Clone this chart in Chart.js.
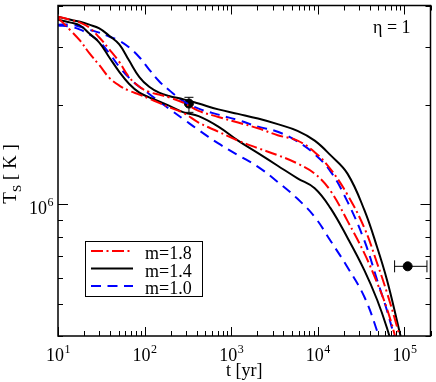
<!DOCTYPE html>
<html>
<head>
<meta charset="utf-8">
<script src="https://cdn.jsdelivr.net/npm/chart.js@4.4.0/dist/chart.umd.min.js"></script>
<style>
  html, body { margin: 0; padding: 0; background: #fff; }
  #wrap { width: 436px; height: 382px; }
</style>
</head>
<body>
<div id="wrap"><canvas id="cooling"></canvas></div>
<script>
// ========== Data (age in yr, surface temperature in K)
let ages = [10, 14, 18, 23, 30, 39, 51, 66, 87, 113, 147, 191, 283, 420, 710, 1200, 2040, 3440, 5830, 9200, 14000, 22000, 34500, 48500, 63000, 82500, 107000];

let red18Hi = [3.70e6, 3.62e6, 3.55e6, 3.43e6, 3.20e6, 2.95e6, 2.70e6, 2.43e6, 2.27e6, 2.19e6, 2.15e6, 2.11e6, 2.03e6, 1.92e6, 1.84e6, 1.77e6, 1.70e6, 1.62e6, 1.56e6, 1.44e6, 1.28e6, 1.07e6, 8.49e5, 6.63e5, 5.40e5, 4.25e5, 3.29e5];
let red18Lo = [3.67e6, 3.36e6, 3.13e6, 2.87e6, 2.64e6, 2.42e6, 2.29e6, 2.21e6, 2.15e6, 2.09e6, 2.03e6, 1.97e6, 1.89e6, 1.77e6, 1.66e6, 1.56e6, 1.48e6, 1.41e6, 1.33e6, 1.24e6, 1.10e6, 8.92e5, 7.11e5, 5.78e5, 4.83e5, 3.78e5, 2.87e5];
let blk14Hi = [3.70e6, 3.62e6, 3.57e6, 3.50e6, 3.41e6, 3.24e6, 3.05e6, 2.73e6, 2.43e6, 2.27e6, 2.18e6, 2.13e6, 2.08e6, 2.02e6, 1.94e6, 1.88e6, 1.82e6, 1.75e6, 1.67e6, 1.56e6, 1.41e6, 1.24e6, 9.61e5, 7.41e5, 5.90e5, 4.42e5, 3.30e5];
let blk14Lo = [3.62e6, 3.55e6, 3.48e6, 3.29e6, 3.09e6, 2.79e6, 2.52e6, 2.32e6, 2.18e6, 2.11e6, 2.05e6, 1.99e6, 1.90e6, 1.85e6, 1.72e6, 1.56e6, 1.43e6, 1.31e6, 1.20e6, 1.12e6, 9.75e5, 7.93e5, 6.32e5, 5.14e5, 4.22e5, 3.30e5, 2.59e5];
let blu10Hi = [3.50e6, 3.50e6, 3.45e6, 3.38e6, 3.31e6, 3.22e6, 3.13e6, 2.99e6, 2.79e6, 2.56e6, 2.36e6, 2.22e6, 2.05e6, 1.95e6, 1.87e6, 1.80e6, 1.72e6, 1.66e6, 1.55e6, 1.42e6, 1.26e6, 1.02e6, 7.77e5, 5.90e5, 4.77e5, 3.70e5, 2.90e5];
let blu10Lo = [3.48e6, 3.45e6, 3.38e6, 3.27e6, 3.11e6, 2.87e6, 2.61e6, 2.42e6, 2.27e6, 2.16e6, 2.05e6, 1.95e6, 1.81e6, 1.68e6, 1.53e6, 1.41e6, 1.30e6, 1.17e6, 1.04e6, 9.17e5, 7.77e5, 6.46e5, 5.25e5, 4.13e5, 3.29e5, 2.60e5, 2.10e5];

// ========== Observations
let obsAge = [325, 1.09e5];
let obsAgeLo = [325, 7.7e4];
let obsAgeHi = [325, 1.82e5];
let obsTemp = [2.02e6, 6.5e5];
let obsTempLo = [1.90e6, 6.5e5];
let obsTempHi = [2.11e6, 6.5e5];

// ========== Ticks
let xTicks = [10, 20, 30, 40, 50, 60, 70, 80, 90, 100, 200, 300, 400, 500, 600, 700, 800, 900,
  1000, 2000, 3000, 4000, 5000, 6000, 7000, 8000, 9000, 10000, 20000, 30000, 40000, 50000, 60000, 70000, 80000, 90000, 100000, 200000];
let xMajor = [10, 100, 1000, 10000, 100000];
let xMajorExp = ['1', '2', '3', '4', '5'];
let yTicks = [4e5, 5e5, 6e5, 7e5, 8e5, 9e5, 1e6, 2e6, 3e6, 4e6];
let yMajor = [1e6];
let yMajorExp = ['6'];

let legendLabels = ['m=1.8', 'm=1.4', 'm=1.0'];

// ========== Colors / styles
let redColor = '#FF0000';
let blackColor = '#000000';
let blueColor = '#0000FF';
let dashDot = [12, 3.5, 2, 3.5];
let dashed = [10, 6.5];
let serif = '"Liberation Serif", "DejaVu Serif", serif';

function curve(values, color, dash) {
    return {
        type: 'line',
        data: ages.map((t, i) => ({ x: t, y: values[i] })),
        borderColor: color,
        borderWidth: 2,
        borderDash: dash,
        pointRadius: 0,
        fill: false,
        tension: 0.4
    };
}

let datasets = [
    curve(red18Hi, redColor, dashDot),
    curve(red18Lo, redColor, dashDot),
    curve(blk14Hi, blackColor, []),
    curve(blk14Lo, blackColor, []),
    curve(blu10Hi, blueColor, dashed),
    curve(blu10Lo, blueColor, dashed),
    {
        type: 'scatter',
        data: obsAge.map((t, i) => ({ x: t, y: obsTemp[i] })),
        backgroundColor: blackColor,
        borderColor: blackColor,
        pointRadius: 4.5,
        showLine: false
    }
];

// @ ========== Frame, inward ticks, labels, error bars, legend
function powLabel(ctx, exp, x, base, align) {
    ctx.font = '18px ' + serif;
    let w1 = ctx.measureText('10').width;
    ctx.font = '12px ' + serif;
    let w2 = ctx.measureText(exp).width;
    let start = align === 'center' ? x - (w1 + w2) / 2 : x - (w1 + w2);
    ctx.font = '18px ' + serif;
    ctx.fillText('10', start, base);
    ctx.font = '12px ' + serif;
    ctx.fillText(exp, start + w1 + 0.5, base - 8);
}

let decorations = {
    id: 'decorations',
    afterDatasetsDraw(chart) {
        let { ctx, chartArea: a, scales: { x, y } } = chart;
        ctx.save();
        ctx.strokeStyle = '#000';
        ctx.fillStyle = '#000';

        // error bars
        ctx.lineWidth = 1;
        obsAge.forEach((t, i) => {
            let px = x.getPixelForValue(t), py = y.getPixelForValue(obsTemp[i]);
            let x0 = x.getPixelForValue(obsAgeLo[i]), x1 = x.getPixelForValue(obsAgeHi[i]);
            let y0 = y.getPixelForValue(obsTempLo[i]), y1 = y.getPixelForValue(obsTempHi[i]);
            ctx.beginPath();
            if (x1 - x0 > 1) {
                ctx.moveTo(x0, py); ctx.lineTo(x1, py);
                ctx.moveTo(x0, py - 6); ctx.lineTo(x0, py + 6);
                ctx.moveTo(x1, py - 6); ctx.lineTo(x1, py + 6);
            }
            if (y0 - y1 > 1) {
                ctx.moveTo(px, y0); ctx.lineTo(px, y1);
                ctx.moveTo(px - 4.5, y0); ctx.lineTo(px + 4.5, y0);
                ctx.moveTo(px - 4.5, y1); ctx.lineTo(px + 4.5, y1);
            }
            ctx.stroke();
        });

        // ticks (inside, all four sides)
        ctx.beginPath();
        xTicks.forEach(v => {
            let px = Math.round(x.getPixelForValue(v)) + 0.5;
            let len = xMajor.includes(v) ? 9 : 5;
            ctx.moveTo(px, a.bottom); ctx.lineTo(px, a.bottom - len);
            ctx.moveTo(px, a.top); ctx.lineTo(px, a.top + len);
        });
        yTicks.forEach(v => {
            let py = Math.round(y.getPixelForValue(v)) + 0.5;
            let len = yMajor.includes(v) ? 10 : 5;
            ctx.moveTo(a.left, py); ctx.lineTo(a.left + len, py);
            ctx.moveTo(a.right, py); ctx.lineTo(a.right - len, py);
        });
        ctx.stroke();

        // frame
        ctx.lineWidth = 1.5;
        ctx.strokeRect(a.left, a.top, a.right - a.left, a.bottom - a.top);

        // tick labels
        ctx.textBaseline = 'alphabetic';
        ctx.textAlign = 'left';
        xMajor.forEach((v, i) => powLabel(ctx, xMajorExp[i], x.getPixelForValue(v), a.bottom + 25, 'center'));
        yMajor.forEach((v, i) => powLabel(ctx, yMajorExp[i], a.left - 5, y.getPixelForValue(v) + 10, 'right'));

        // axis titles
        ctx.font = '18px ' + serif;
        ctx.textAlign = 'center';
        ctx.fillText('t [yr]', (a.left + a.right) / 2, 376);

        ctx.save();
        ctx.translate(15.5, 174);
        ctx.rotate(-Math.PI / 2);
        ctx.textAlign = 'left';
        ctx.font = '19px ' + serif;
        let wT = ctx.measureText('T').width;
        let wK = ctx.measureText(' [ K ]').width;
        ctx.font = '13px ' + serif;
        let wS = ctx.measureText('S').width;
        let s = -(wT + wS + wK) / 2;
        ctx.font = '19px ' + serif;
        ctx.fillText('T', s, 0);
        ctx.font = '13px ' + serif;
        ctx.fillText('S', s + wT, 5);
        ctx.font = '19px ' + serif;
        ctx.fillText(' [ K ]', s + wT + wS, 0);
        ctx.restore();

        ctx.font = '18px ' + serif;
        ctx.textAlign = 'left';
        ctx.fillText('\u03B7 = 1', 373, 33);

        // legend
        let bx = 85, by = 241, bw = 117, bh = 55;
        ctx.fillStyle = '#fff';
        ctx.fillRect(bx, by, bw, bh);
        ctx.lineWidth = 1;
        ctx.strokeStyle = '#000';
        ctx.strokeRect(bx + 0.5, by + 0.5, bw, bh);
        let legendSets = [datasets[0], datasets[2], datasets[4]];
        legendSets.forEach((d, i) => {
            let ly = 251 + i * 17.5;
            ctx.beginPath();
            ctx.strokeStyle = d.borderColor;
            ctx.lineWidth = 2;
            ctx.setLineDash(d.borderDash);
            ctx.moveTo(91, ly); ctx.lineTo(133, ly);
            ctx.stroke();
            ctx.setLineDash([]);
            ctx.fillStyle = '#000';
            ctx.font = '18px ' + serif;
            ctx.fillText(legendLabels[i], 145, ly + 8);
        });
        ctx.restore();
    }
};

var coolingCanvas = document.getElementById('cooling');
var coolingChart = new Chart(coolingCanvas, {
    type: 'line',
    data: { datasets: datasets },
    options: {
        responsive: true,
        maintainAspectRatio: false,
        animation: false,
        layout: { padding: { top: 2, right: 3, left: 0, bottom: 0 } },
        plugins: { legend: { display: false }, tooltip: { enabled: false } },
        scales: {
            x: {
                type: 'logarithmic', min: 10, max: 2e5,
                grid: { display: false }, border: { display: false },
                ticks: { display: false },
                afterBuildTicks(s) { s.ticks = xTicks.map(v => ({ value: v })); },
                afterFit(s) { s.height = 46; }
            },
            y: {
                type: 'logarithmic', min: 4e5, max: 4e6,
                grid: { display: false }, border: { display: false },
                ticks: { display: false },
                afterBuildTicks(s) { s.ticks = yTicks.map(v => ({ value: v })); },
                afterFit(s) { s.width = 58; }
            }
        }
    },
    plugins: [decorations]
});
</script>
</body>
</html>
